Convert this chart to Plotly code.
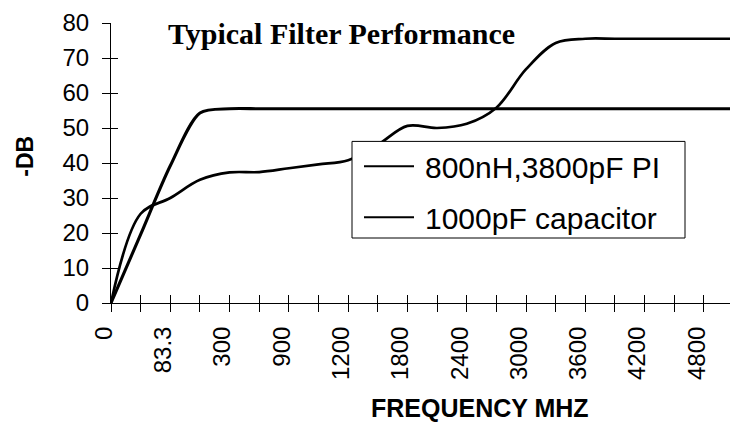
import plotly.graph_objects as go

# Category positions (one per measured frequency step) and their labels;
# only every other category carries a printed label.
category_index = list(range(22))
freq_labels = ["0", "83.3", "300", "900", "1200", "1800",
               "2400", "3000", "3600", "4200", "4800"]
label_every = 2

series_names = ["800nH,3800pF PI", "1000pF capacitor"]

# Attenuation (-dB) per category
pi_800nh_3800pf = [0, 25.5, 30.0, 35.2, 37.3, 37.4, 38.5, 39.6, 40.8, 45.2,
                   50.6, 50.0, 51.2, 55.8, 66.8, 74.3, 75.5, 75.5, 75.5,
                   75.5, 75.5, 75.5]
cap_1000pf = [0, 19.6, 39.2, 54.3, 55.5, 55.5, 55.5, 55.5, 55.5, 55.5,
              55.5, 55.5, 55.5, 55.5, 55.5, 55.5, 55.5, 55.5, 55.5,
              55.5, 55.5, 55.5]

y_ticks = [0, 10, 20, 30, 40, 50, 60, 70, 80]

SANS = "Liberation Sans, Arial, sans-serif"
SERIF = "Liberation Serif, Times New Roman, serif"

n_ticks = len(freq_labels) * label_every - 1
tick_vals = list(range(n_ticks))
tick_text = [freq_labels[i // label_every] if i % label_every == 0 else ""
             for i in tick_vals]

x_range = [0, 20.88]
y_range = [0, 80]

# plot area geometry in pixels, used to place the title, axis titles and key
PLOT_L, PLOT_W, PLOT_B, PLOT_H = 111, 619, 303.3, 280


def px(x):
    return (x - PLOT_L) / PLOT_W


def py(y):
    return (PLOT_B - y) / PLOT_H


fig = go.Figure()
fig.add_trace(go.Scatter(
    x=category_index, y=pi_800nh_3800pf, name=series_names[0],
    mode="lines", line=dict(color="black", width=2.7, shape="spline", smoothing=1.0),
))
fig.add_trace(go.Scatter(
    x=category_index, y=cap_1000pf, name=series_names[1],
    mode="lines", line=dict(color="black", width=3.1, shape="spline", smoothing=0.8),
))
# empty trace bound to the companion axes so they render
fig.add_trace(go.Scatter(x=[None], y=[None], xaxis="x2", yaxis="y2",
                         showlegend=False, hoverinfo="skip"))

axis_common = dict(showgrid=False, zeroline=False, color="black")

fig.update_layout(
    width=730, height=422,
    margin=dict(l=111, r=0, t=23, b=119, pad=0),
    paper_bgcolor="white", plot_bgcolor="white",
    font=dict(family=SANS, color="black"),
    showlegend=False,
    xaxis=dict(
        **axis_common, range=x_range, tickmode="array",
        tickvals=tick_vals, ticktext=tick_text, tickangle=-90,
        ticks="outside", ticklen=8, tickwidth=1, tickcolor="black",
        showline=True, linecolor="black", linewidth=1,
        tickfont=dict(size=24, family=SANS), ticklabelstandoff=5,
        ticklabelshift=-7,
    ),
    yaxis=dict(
        **axis_common, range=y_range, tickmode="array", tickvals=y_ticks,
        ticks="outside", ticklen=8, tickwidth=1, tickcolor="black",
        showline=True, linecolor="black", linewidth=1,
        tickfont=dict(size=24, family=SANS), ticklabelstandoff=8,
    ),
    # companion axes draw the inner half of each tick so the marks cross the axis lines
    xaxis2=dict(
        **axis_common, overlaying="x", range=x_range, tickmode="array",
        tickvals=tick_vals, ticks="inside", ticklen=8, tickwidth=1,
        tickcolor="black", showticklabels=False, showline=False,
    ),
    yaxis2=dict(
        **axis_common, overlaying="y", side="left", range=y_range,
        tickmode="array", tickvals=y_ticks, ticks="inside", ticklen=7,
        tickwidth=1, tickcolor="black", showticklabels=False, showline=False,
    ),
)

# key: framed box with a line sample and the series name on each row
fig.add_shape(type="rect", xref="paper", yref="paper",
              x0=px(352), x1=px(685), y0=py(238.3), y1=py(141.7),
              line=dict(color="black", width=1), fillcolor="white", layer="above")
for name, row_y in zip(series_names, [166.5, 217.5]):
    fig.add_shape(type="line", xref="paper", yref="paper",
                  x0=px(364), x1=px(414), y0=py(row_y), y1=py(row_y),
                  line=dict(color="black", width=2), layer="above")
    fig.add_annotation(
        text=name, xref="paper", yref="paper", x=px(423), y=py(row_y + 1.5),
        xanchor="left", yanchor="middle", showarrow=False,
        font=dict(family=SANS, size=30, color="black"),
    )

fig.add_annotation(
    text="<b>Typical Filter Performance</b>", xref="paper", yref="paper",
    x=px(341), y=py(34), xanchor="center", yanchor="middle",
    showarrow=False, font=dict(family=SERIF, size=30, color="black"),
)
fig.add_annotation(
    text="<b>-DB</b>", xref="paper", yref="paper",
    x=px(25), y=py(157), xanchor="center", yanchor="middle",
    textangle=-90, showarrow=False, font=dict(family=SANS, size=23, color="black"),
)
fig.add_annotation(
    text="<b>FREQUENCY MHZ</b>", xref="paper", yref="paper",
    x=px(480), y=py(408), xanchor="center", yanchor="middle",
    showarrow=False, font=dict(family=SANS, size=25, color="black"),
)

fig.write_html("out.html")
